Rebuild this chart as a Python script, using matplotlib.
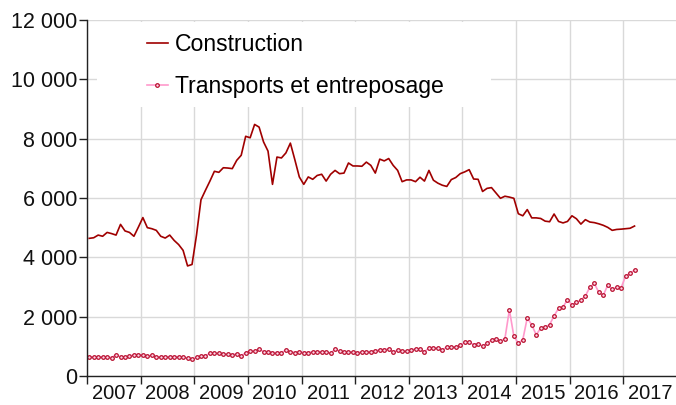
import matplotlib
matplotlib.use("Agg")
import matplotlib.pyplot as plt
from matplotlib.ticker import FixedLocator, FuncFormatter
from matplotlib.patches import Rectangle
import numpy as np

plt.rcParams['font.family'] = ['Liberation Sans', 'DejaVu Sans']

# Monthly series, January 2007 to March 2017
construction = [
    4640, 4660, 4750, 4710, 4840, 4800, 4750, 5110, 4890, 4840, 4710, 5020,
    5340, 5000, 4965, 4910, 4710, 4650, 4750, 4570, 4430, 4235, 3710, 3760,
    4750, 5940, 6260, 6570, 6900, 6865, 7020, 7010, 6990, 7270, 7440, 8080,
    8030, 8480, 8390, 7890, 7580, 6460, 7380, 7350, 7520, 7850, 7290, 6710,
    6460, 6710, 6630, 6760, 6800, 6570, 6800, 6930, 6820, 6840, 7180, 7080,
    7080, 7070, 7210, 7100, 6840, 7310, 7250, 7330, 7100, 6930, 6550, 6610,
    6610, 6550, 6700, 6570, 6930, 6600, 6500, 6430, 6390, 6620, 6690, 6820,
    6880, 6955, 6640, 6630, 6220, 6325, 6350, 6170, 5990, 6060, 6030, 5990,
    5470, 5400, 5610, 5330, 5330, 5310, 5220, 5200, 5460, 5210, 5160, 5210,
    5400, 5300, 5120, 5270, 5190, 5170, 5130, 5080, 5010, 4910, 4940, 4950,
    4965, 4980, 5055,
]
transports = [
    640, 640, 640, 640, 640, 620, 720, 640, 640, 660, 720, 720,
    710, 660, 700, 640, 650, 650, 650, 650, 650, 630, 600, 560,
    630, 670, 690, 760, 760, 760, 740, 730, 710, 750, 670, 790,
    850, 830, 910, 820, 820, 790, 790, 790, 870, 820, 790, 820,
    790, 790, 820, 820, 820, 820, 760, 910, 830, 820, 810, 800,
    790, 810, 820, 820, 840, 890, 890, 910, 810, 870, 830, 830,
    880, 910, 910, 810, 955, 955, 930, 880, 980, 980, 980, 1030,
    1135, 1135, 1060, 1090, 1010, 1110, 1220, 1250, 1180, 1260, 2230, 1340,
    1100, 1225, 1960, 1720, 1390, 1610, 1650, 1730, 2030, 2280, 2330, 2570,
    2400, 2480, 2560, 2700, 2990, 3120, 2820, 2720, 3060, 2920, 2990, 2970,
    3370, 3470, 3570,
]
years = [str(y) for y in range(2007, 2018)]
labels = ["Construction", "Transports et entreposage"]

x = np.arange(len(construction)) + 0.5

fig = plt.figure(figsize=(6.76, 4.05), dpi=100)
ax = fig.add_axes([87 / 676, 29 / 405, 590 / 676, 356 / 405])

ax.plot(x, construction, color='#A00000', lw=1.2, label=labels[0], zorder=3)
ax.plot(x, transports, color='#FF99CC', lw=1.2, marker='o', markersize=2.6,
        markerfacecolor='#FFD6E8', markeredgecolor='#B8102F', markeredgewidth=0.9,
        label=labels[1], zorder=2.5)

ax.set_xlim(0, 132)
ax.set_ylim(0, 12000)
ax.set_axisbelow(True)

ax.xaxis.set_major_locator(FixedLocator(np.arange(0, 133, 12)))
ax.xaxis.set_major_formatter(FuncFormatter(lambda v, p: ""))
ax.set_xticks(np.arange(6, 133, 12), minor=True)
ax.set_xticklabels(years, minor=True)
ax.tick_params(axis='x', which='major', length=6, width=1, color='#222222', direction='out')
ax.tick_params(axis='x', which='minor', length=0, labelsize=14.5, pad=6, labelcolor='#111111')

ax.set_yticks(np.arange(0, 12001, 2000))
ax.yaxis.set_major_formatter(FuncFormatter(lambda v, p: f"{int(v):,}".replace(",", " ")))
ax.tick_params(axis='y', length=6, width=1, color='#222222', labelsize=15.5, pad=1, labelcolor='#111111')

ax.grid(True, which='major', axis='both', color='#D9D9D9', lw=1)

for s in ['top', 'right']:
    ax.spines[s].set_visible(False)
for s in ['left', 'bottom']:
    ax.spines[s].set_color('#222222')
    ax.spines[s].set_linewidth(1)

# white box behind legend
ax.add_patch(Rectangle(((97 - 87) / 589, (376 - 107) / 356), (490 - 97) / 589,
                       (107 - 22) / 356, transform=ax.transAxes, facecolor='white',
                       edgecolor='none', zorder=1))

leg = ax.legend(loc='upper left', bbox_to_anchor=((147 - 87) / 589, (376 - 33) / 356),
                frameon=False, fontsize=16.6, handlelength=0.9, handletextpad=0.3,
                labelspacing=0.82, borderpad=0, borderaxespad=0)

fig.savefig("out.png", dpi=100)
